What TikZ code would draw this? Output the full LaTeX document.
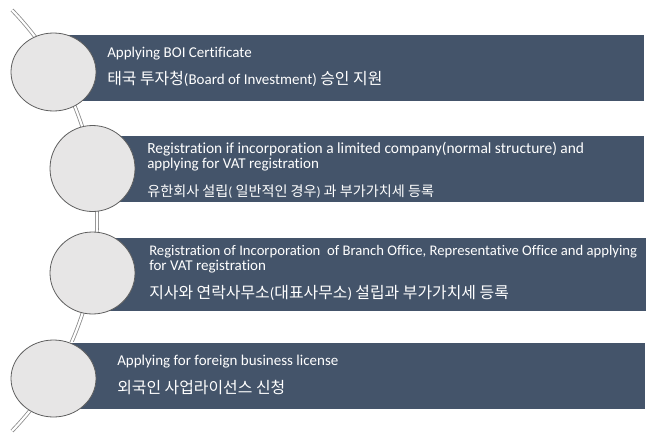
\documentclass[tikz,border=0pt]{standalone}
\usepackage{fontspec}
\setmainfont{Carlito}[Ligatures=NoCommon]
\newfontfamily\kr{Noto Sans CJK KR}[Scale=1.06]
\usetikzlibrary{shapes.geometric}
\definecolor{slate}{HTML}{44546A}
\definecolor{pebble}{HTML}{E7E6E6}
\definecolor{rim}{HTML}{5F5F5F}
\definecolor{railgray}{HTML}{8A8A8A}
\begin{document}
\begin{tikzpicture}[x=0.75pt,y=-0.75pt,
    bar/.style={draw=white,line width=0.4pt,fill=slate,inner sep=0pt,outer sep=0pt,anchor=north west},
    dot/.style={shape=ellipse,draw=rim,line width=0.6pt,fill=pebble,minimum width=63.75pt,inner sep=0pt},
    txt/.style={text=white,anchor=base west,inner sep=0pt,font=\fontsize{11.25}{13}\selectfont},
    rail/.style={draw=railgray,line width=0.6pt,double=white,double distance=1.6pt}]
    \useasboundingbox (0,0) rectangle (652,439);

    \coordinate (top) at (12,10);
    \draw[rail] (top) arc[start angle=-44,end angle=44,radius=303] coordinate (bot);

    \node[bar,minimum width=442.5pt,minimum height=50.25pt] (b1) at (54,34) {};
    \node[bar,minimum width=414pt,minimum height=50.25pt] (b2) at (92,135) {};
    \node[bar,minimum width=415.5pt,minimum height=55.5pt] (b3) at (92,237) {};
    \node[bar,minimum width=443.25pt,minimum height=50.25pt] (b4) at (54,342) {};

    \node[dot,minimum height=58.5pt] (1) at (53.5,72) {};
    \node[dot,minimum height=64.5pt] (2) at (92.5,168.5) {};
    \node[dot,minimum height=61.5pt] (3) at (92.5,273) {};
    \node[dot,minimum height=57.75pt] (4) at (53.5,378.5) {};

    \node[txt] (t1) at (107,57) {Applying BOI Certificate};
    \node[txt] (k1) at (107,84) {{\kr 태국 투자청}(Board of Investment) {\kr 승인 지원}};

    \node[txt,font=\fontsize{11.6}{13}\selectfont] (t2) at (147,153) {Registration if incorporation a limited company(normal structure) and};
    \node[txt] (u2) at (147,168) {applying for VAT registration};
    \node[txt,font=\fontsize{10}{12}\selectfont] (k2) at (147,196) {{\kr 유한회사 설립}( {\kr 일반적인 경우}) {\kr 과 부가가치세 등록}};

    \node[txt,font=\fontsize{11}{13}\selectfont] (t3) at (149,255) {Registration of Incorporation\ \ of Branch Office, Representative Office and applying};
    \node[txt] (u3) at (149,270) {for VAT registration};
    \node[txt] (k3) at (149,298) {{\kr 지사와 연락사무소}({\kr 대표사무소}) {\kr 설립과 부가가치세 등록}};

    \node[txt] (t4) at (117,365) {Applying for foreign business license};
    \node[txt] (k4) at (117,393) {\kr 외국인 사업라이선스 신청};
\end{tikzpicture}
\end{document}
